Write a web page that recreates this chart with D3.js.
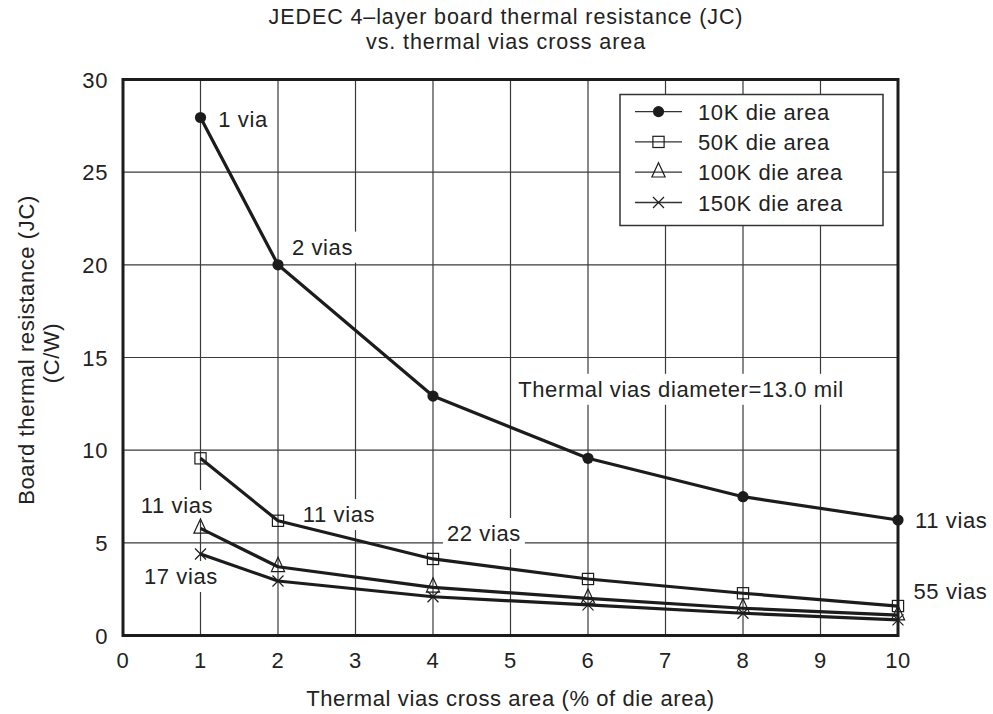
<!DOCTYPE html>
<html>
<head>
<meta charset="utf-8">
<script src="https://cdn.jsdelivr.net/npm/d3@7"></script>
<style>
  body { margin: 0; background: #fff; }
  text { font-family: "Liberation Sans", Arial, Helvetica, sans-serif; fill: #222; letter-spacing: 0.6px; }
</style>
</head>
<body>
<svg id="chart" width="993" height="714"></svg>
<script>
// values
const xValues = [1, 2, 4, 6, 8, 10];
const seriesNames = ["10K die area", "50K die area", "100K die area", "150K die area"];
const die10K  = [27.95, 20.0, 12.92, 9.56, 7.49, 6.23];
const die50K  = [9.56, 6.19, 4.13, 3.05, 2.28, 1.59];
const die100K = [5.78, 3.71, 2.6, 2.0, 1.47, 1.1];
const die150K = [4.4, 2.94, 2.09, 1.65, 1.2, 0.84];
const xTicks = [0, 1, 2, 3, 4, 5, 6, 7, 8, 9, 10];
const yTicks = [0, 5, 10, 15, 20, 25, 30];
const titleLines = ["JEDEC 4\u2013layer board thermal resistance (JC)", "vs. thermal vias cross area"];
const yLabelLines = ["Board thermal resistance (JC)", "(C/W)"];
const xLabel = "Thermal vias cross area (% of die area)";
const noteTexts = ["1 via", "2 vias", "Thermal vias diameter=13.0 mil", "11 vias", "11 vias", "11 vias", "22 vias", "17 vias", "55 vias"];
const noteX = [1.23, 2.18, 5.1, 10.22, 0.23, 2.32, 4.18, 0.27, 10.2];
const noteY = [27.45, 20.55, 12.88, 5.8, 6.61, 6.12, 5.1, 2.78, 1.97];

const allSeries = [die10K, die50K, die100K, die150K];
const markerTypes = ["circle", "square", "triangle", "cross"];

const svg = d3.select("#chart");
const ink = "#1c1c1c";

const x = d3.scaleLinear().domain([0, 10]).range([123, 898]);
const y = d3.scaleLinear().domain([0, 30]).range([635.5, 79.5]);

// grid
const grid = svg.append("g");
grid.selectAll(".vg")
  .data(xTicks.slice(1, -1))
  .enter().append("line")
  .attr("x1", d => x(d)).attr("x2", d => x(d))
  .attr("y1", y(0)).attr("y2", y(30))
  .attr("stroke", "#3a3a3a").attr("stroke-width", 1.2);
grid.selectAll(".hg")
  .data(yTicks.slice(1, -1))
  .enter().append("line")
  .attr("x1", x(0)).attr("x2", x(10))
  .attr("y1", d => y(d)).attr("y2", d => y(d))
  .attr("stroke", "#3a3a3a").attr("stroke-width", 1.2);

// annotations with white boxes that cut the grid
const notes = svg.append("g");
noteTexts.forEach((t, i) => {
  const g = notes.append("g");
  const txt = g.append("text")
    .attr("x", x(noteX[i]))
    .attr("y", y(noteY[i]))
    .attr("font-size", 22)
    .text(t);
  const bb = txt.node().getBBox();
  g.insert("rect", "text")
    .attr("x", bb.x - 4).attr("y", bb.y - 3)
    .attr("width", bb.width + 8).attr("height", bb.height + 6)
    .attr("fill", "#fff");
});

// series lines
const line = d3.line()
  .x((d, i) => x(xValues[i]))
  .y(d => y(d));

svg.append("g").selectAll("path")
  .data(allSeries)
  .enter().append("path")
  .attr("d", d => line(d))
  .attr("fill", "none")
  .attr("stroke", ink)
  .attr("stroke-width", 3.2)
  .attr("stroke-linejoin", "round");

function drawMarker(g, type, cx, cy) {
  if (type == "circle") {
    g.append("circle").attr("cx", cx).attr("cy", cy).attr("r", 5.6).attr("fill", ink);
  } else if (type == "square") {
    g.append("rect").attr("x", cx - 5.6).attr("y", cy - 5.6)
      .attr("width", 11.2).attr("height", 11.2)
      .attr("fill", "none").attr("stroke", ink).attr("stroke-width", 1.2);
  } else if (type == "triangle") {
    g.append("path")
      .attr("d", `M${cx},${cy - 9.5}L${cx + 6.6},${cy + 4.8}L${cx - 6.6},${cy + 4.8}Z`)
      .attr("fill", "none").attr("stroke", ink).attr("stroke-width", 1.2);
  } else {
    g.append("path")
      .attr("d", `M${cx - 5.5},${cy - 5.5}L${cx + 5.5},${cy + 5.5}M${cx + 5.5},${cy - 5.5}L${cx - 5.5},${cy + 5.5}`)
      .attr("fill", "none").attr("stroke", ink).attr("stroke-width", 1.2);
  }
}

const markers = svg.append("g");
allSeries.forEach((s, k) => {
  s.forEach((v, i) => drawMarker(markers, markerTypes[k], x(xValues[i]), y(v)));
});

// frame
svg.append("rect")
  .attr("x", x(0)).attr("y", y(30))
  .attr("width", x(10) - x(0)).attr("height", y(0) - y(30))
  .attr("fill", "none").attr("stroke", ink).attr("stroke-width", 3);

// tick labels
svg.append("g").selectAll("text")
  .data(xTicks)
  .enter().append("text")
  .attr("x", d => x(d)).attr("y", 668)
  .attr("text-anchor", "middle").attr("font-size", 22)
  .text(d => d);
svg.append("g").selectAll("text")
  .data(yTicks)
  .enter().append("text")
  .attr("x", 108).attr("y", d => y(d) + 8)
  .attr("text-anchor", "end").attr("font-size", 22)
  .text(d => d);

// titles
svg.append("g").selectAll("text")
  .data(titleLines)
  .enter().append("text")
  .attr("x", 506).attr("y", (d, i) => 24 + i * 25)
  .attr("text-anchor", "middle").attr("font-size", 21.5)
  .style("letter-spacing", "0.9px")
  .text(d => d);

svg.append("text")
  .attr("x", (x(0) + x(10)) / 2).attr("y", 706)
  .attr("text-anchor", "middle").attr("font-size", 22)
  .text(xLabel);

svg.append("g").selectAll("text")
  .data(yLabelLines)
  .enter().append("text")
  .attr("transform", (d, i) => `translate(${34 + i * 25},${350 + i * 3}) rotate(-90)`)
  .attr("text-anchor", "middle").attr("font-size", 22)
  .text(d => d);

// legend
const legend = svg.append("g");
legend.append("rect")
  .attr("x", 620).attr("y", 94.5).attr("width", 263).attr("height", 131)
  .attr("fill", "#fff").attr("stroke", "#333").attr("stroke-width", 1.5);
seriesNames.forEach((name, k) => {
  const cy = 111.6 + k * 30.3;
  legend.append("line")
    .attr("x1", 635).attr("x2", 682).attr("y1", cy).attr("y2", cy)
    .attr("stroke", "#333").attr("stroke-width", 1.3);
  drawMarker(legend, markerTypes[k], 658.5, cy);
  legend.append("text")
    .attr("x", 698).attr("y", cy + 8)
    .attr("font-size", 22)
    .text(name);
});
</script>
</body>
</html>
